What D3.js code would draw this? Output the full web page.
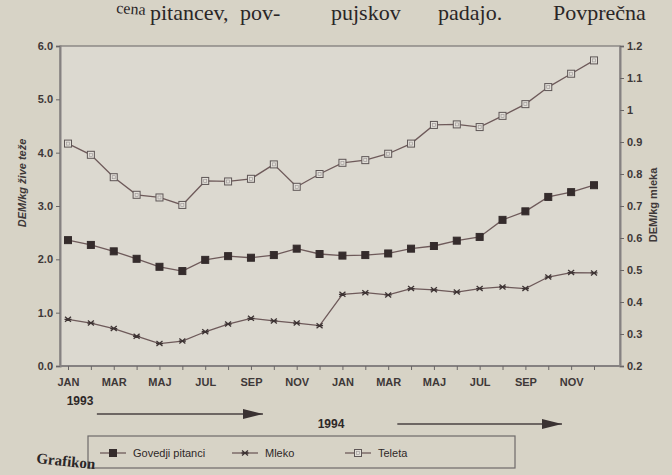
<!DOCTYPE html>
<html>
<head>
<meta charset="utf-8">
<script src="https://cdn.jsdelivr.net/npm/d3@7"></script>
<style>
  html, body { margin: 0; padding: 0; background: #d7d3c6; }
  svg { display: block; }
</style>
</head>
<body>
<div id="chart"></div>
<script>
// months Jan 1993 .. Dec 1994
var months = ['JAN','FEB','MAR','APR','MAJ','JUN','JUL','AVG','SEP','OKT','NOV','DEC',
              'JAN','FEB','MAR','APR','MAJ','JUN','JUL','AVG','SEP','OKT','NOV','DEC'];

// left axis, DEM/kg žive teže
var teleta = [4.17,3.96,3.54,3.21,3.16,3.02,3.47,3.46,3.51,3.78,3.36,3.60,
              3.81,3.86,3.98,4.17,4.52,4.53,4.48,4.69,4.91,5.23,5.48,5.73];
var govedo = [2.36,2.27,2.15,2.01,1.86,1.78,1.99,2.06,2.03,2.08,2.20,2.10,
              2.07,2.08,2.11,2.20,2.25,2.35,2.42,2.74,2.90,3.17,3.26,3.39];
// right axis, DEM/kg mleka
var mleko = [0.346,0.334,0.317,0.293,0.270,0.278,0.307,0.331,0.349,0.341,0.334,0.326,
             0.424,0.429,0.422,0.442,0.438,0.431,0.442,0.447,0.442,0.478,0.492,0.491];

var leftTicks = [0, 1, 2, 3, 4, 5, 6];
var rightTicks = [0.2, 0.3, 0.4, 0.5, 0.6, 0.7, 0.8, 0.9, 1.0, 1.1, 1.2];
var years = ['1993', '1994'];

var W = 672, H = 475;
var ink = '#3e3838', lineCol = '#6e5a5a';
var sans = '"Liberation Sans", Arial, sans-serif';
var serif = '"Liberation Serif", "Times New Roman", serif';

var svg = d3.select('#chart').append('svg').attr('width', W).attr('height', H);

var plot = {left: 60, right: 620, top: 46, bottom: 366};

var x = d3.scaleLinear().domain([0, months.length - 1]).range([68, 594]);
var yL = d3.scaleLinear().domain([0, 6]).range([plot.bottom, plot.top]);
var yR = d3.scaleLinear().domain([0.2, 1.2]).range([plot.bottom, plot.top]);

// page text above the chart
var topWords = [['pitancev,', 150], ['pov-', 240], ['pujskov', 331], ['padajo.', 438], ['Povprečna', 553]];
svg.append('text').attr('x', 116).attr('y', 13).attr('font-family', serif)
    .attr('font-size', 16).attr('fill', '#2a2626').attr('transform', 'rotate(4,116,13)').text('cena');
svg.selectAll('.tw').data(topWords).enter().append('text')
    .attr('x', function(d) { return d[1]; }).attr('y', 20)
    .attr('font-family', serif).attr('font-size', 22).attr('fill', '#2a2626')
    .text(function(d) { return d[0]; });

// plot area
svg.append('rect').attr('x', plot.left).attr('y', plot.top)
    .attr('width', plot.right - plot.left).attr('height', plot.bottom - plot.top)
    .attr('fill', '#dcd9d0').attr('stroke', '#7a7676').attr('stroke-width', 1.2);

// left axis
var axL = svg.append('g').attr('transform', 'translate(' + plot.left + ',0)')
    .call(d3.axisLeft(yL).tickValues(leftTicks).tickSize(4).tickFormat(d3.format('.1f')));
// right axis
var axR = svg.append('g').attr('transform', 'translate(' + plot.right + ',0)')
    .call(d3.axisRight(yR).tickValues(rightTicks).tickSize(4)
        .tickFormat(function(d) { return Math.abs(d - 1) < 1e-9 ? '1' : d3.format('.1f')(d); }));
// bottom axis, a tick for every month, labels every other month
var axB = svg.append('g').attr('transform', 'translate(0,' + plot.bottom + ')')
    .call(d3.axisBottom(x).tickValues(d3.range(months.length)).tickSize(4)
        .tickFormat(function(i) { return i % 2 === 0 ? months[i] : ''; }));

[axL, axR, axB].forEach(function(g) {
    g.select('.domain').attr('stroke', '#858181').attr('stroke-width', 2);
    g.selectAll('.tick line').attr('stroke', '#6a6666');
    g.selectAll('.tick text').attr('font-family', sans).attr('font-size', 11)
        .attr('font-weight', 'bold').attr('fill', ink);
});
axB.select('.domain').attr('d', 'M' + plot.left + ',0H' + plot.right);
axB.selectAll('.tick text').attr('dy', '1.2em');

// axis titles
svg.append('text').attr('transform', 'translate(26,' + 183 + ') rotate(-90)')
    .attr('text-anchor', 'middle').attr('font-family', sans).attr('font-size', 11)
    .attr('font-style', 'italic').attr('font-weight', 'bold').attr('fill', ink).text('DEM/kg žive teže');
svg.append('text').attr('transform', 'translate(657,' + 205 + ') rotate(-90)')
    .attr('text-anchor', 'middle').attr('font-family', sans).attr('font-size', 11)
    .attr('font-weight', 'bold').attr('fill', ink).text('DEM/kg mleka');

// markers
function square(g, filled) {
    g.append('rect').attr('x', -3.5).attr('y', -3.5).attr('width', 7).attr('height', 7)
        .attr('fill', filled ? '#352c2c' : '#e2dfd8').attr('stroke', filled ? '#352c2c' : '#5e5656')
        .attr('stroke-width', 1);
    if (!filled) g.append('rect').attr('x', -1.5).attr('y', -1.5).attr('width', 3).attr('height', 3)
        .attr('fill', 'none').attr('stroke', '#9a9494').attr('stroke-width', 0.6);
}
function star(g) {
    g.append('path').attr('d', 'M-3,-2.5L3,2.5M-3,2.5L3,-2.5M-3.5,0H3.5')
        .attr('stroke', '#3e3434').attr('stroke-width', 1.3);
}

var series = [
    {name: 'Teleta', values: teleta, y: yL, mark: function(g) { square(g, false); }},
    {name: 'Govedji pitanci', values: govedo, y: yL, mark: function(g) { square(g, true); }},
    {name: 'Mleko', values: mleko, y: yR, mark: star}
];

series.forEach(function(s) {
    var line = d3.line().x(function(d, i) { return x(i); }).y(function(d) { return s.y(d); });
    svg.append('path').datum(s.values).attr('d', line)
        .attr('fill', 'none').attr('stroke', lineCol).attr('stroke-width', 1.3);
    svg.selectAll(null).data(s.values).enter().append('g')
        .attr('transform', function(d, i) { return 'translate(' + x(i) + ',' + s.y(d) + ')'; })
        .each(function() { s.mark(d3.select(this)); });
});

// year labels with arrows
var defs = svg.append('defs');
defs.append('marker').attr('id', 'head').attr('viewBox', '0 0 20 10').attr('refX', 20).attr('refY', 5)
    .attr('markerWidth', 20).attr('markerHeight', 10).attr('markerUnits', 'userSpaceOnUse')
    .attr('orient', 'auto').append('path').attr('d', 'M0,0L20,5L0,10Z').attr('fill', '#3a3232');

var yearRows = [
    {label: years[0], tx: x(0) + 12, ty: 405, x1: x(1) + 6, x2: x(8) + 12, ay: 414},
    {label: years[1], tx: x(11.5), ty: 428, x1: x(14.4), x2: x(21.6), ay: 424}
];
yearRows.forEach(function(r) {
    svg.append('text').attr('x', r.tx).attr('y', r.ty).attr('text-anchor', 'middle')
        .attr('font-family', sans).attr('font-size', 12).attr('font-weight', 'bold')
        .attr('fill', '#2e2828').text(r.label);
    svg.append('line').attr('x1', r.x1).attr('x2', r.x2).attr('y1', r.ay).attr('y2', r.ay)
        .attr('stroke', '#4a4242').attr('stroke-width', 1.5).attr('marker-end', 'url(#head)');
});

// legend
var lg = svg.append('g');
lg.append('rect').attr('x', 88).attr('y', 436).attr('width', 427).attr('height', 32)
    .attr('fill', 'none').attr('stroke', '#6e6a6a').attr('stroke-width', 1.2);
var legendItems = [
    {s: series[1], x: 100},
    {s: series[2], x: 232},
    {s: series[0], x: 345}
];
legendItems.forEach(function(it) {
    var g = lg.append('g').attr('transform', 'translate(' + it.x + ',453)');
    g.append('line').attr('x1', 0).attr('x2', 26).attr('stroke', lineCol).attr('stroke-width', 1.3);
    it.s.mark(g.append('g').attr('transform', 'translate(13,0)'));
    g.append('text').attr('x', 33).attr('y', 4).attr('font-family', sans).attr('font-size', 11)
        .attr('fill', '#2e2828').text(it.s.name);
});

// page text below
svg.append('text').attr('x', 36).attr('y', 463).attr('font-family', serif).attr('font-size', 15)
    .attr('font-weight', 'bold').attr('fill', '#2a2626').attr('transform', 'rotate(6,36,463)')
    .text('Grafikon');
</script>
</body>
</html>
